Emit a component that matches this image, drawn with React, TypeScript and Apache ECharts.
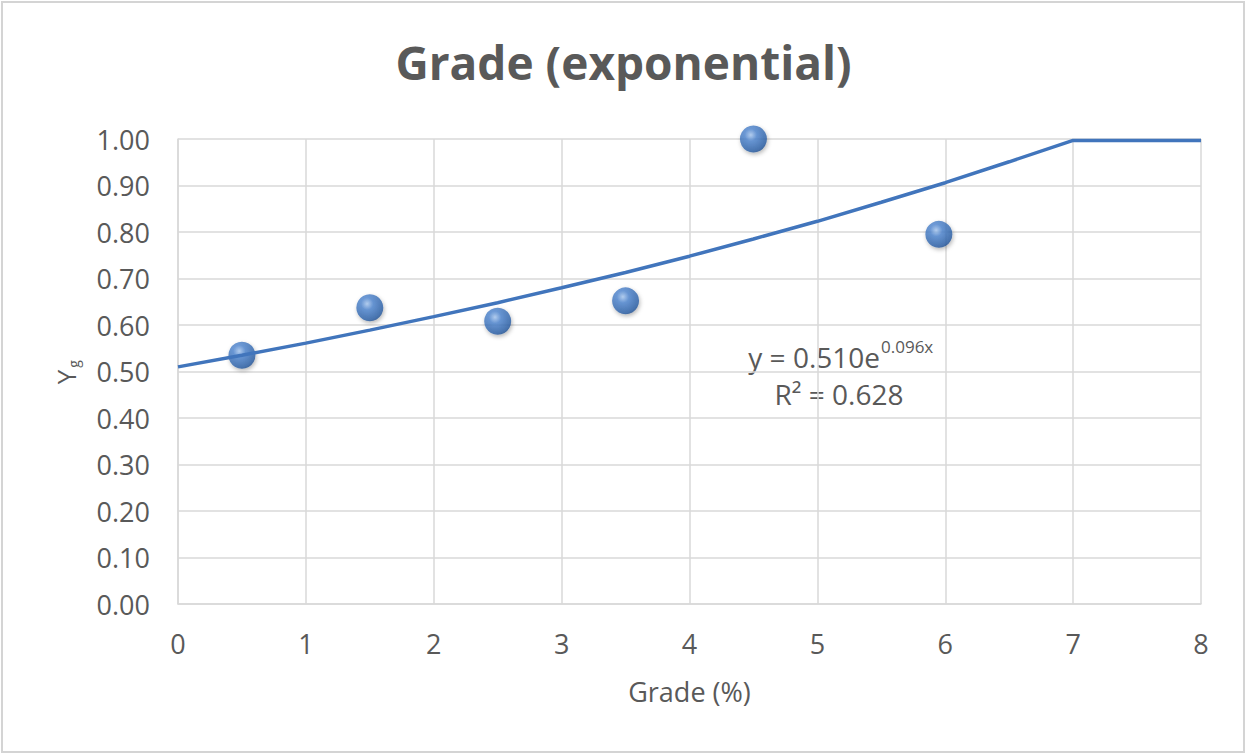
import React, { useEffect, useRef } from "react";
import * as echarts from "echarts";

const title = "Grade (exponential)";
const xAxisName = "Grade (%)";
const yTicks = [0, 0.1, 0.2, 0.3, 0.4, 0.5, 0.6, 0.7, 0.8, 0.9, 1.0];
const pointX = [0.5, 1.5, 2.5, 3.5, 4.5, 5.95];
const pointY = [0.535, 0.637, 0.608, 0.652, 1.0, 0.795];
const trendX = [0, 0.5, 1, 1.5, 2, 2.5, 3, 3.5, 4, 4.5, 5, 5.5, 6, 6.5, 7, 8];
const trendY = [0.51, 0.535, 0.561, 0.589, 0.618, 0.648, 0.68, 0.713, 0.748, 0.785, 0.823, 0.864, 0.906, 0.951, 0.997, 0.997];
const equationMain = "y = 0.510e";
const equationExp = "0.096x";
const rSquared = "R² = 0.628";

const FONT = "'Open Sans', Lato, sans-serif";
const GRAY = "#595959";

export default function App() {
  const ref = useRef<HTMLDivElement>(null);
  useEffect(() => {
    if (!ref.current) return;
    const chart = echarts.init(ref.current, null, { renderer: "svg" });
    const sphere = {
      type: "radial",
      x: 0.4,
      y: 0.35,
      r: 0.75,
      colorStops: [
        { offset: 0, color: "#a9c9f2" },
        { offset: 0.3, color: "#4f86d0" },
        { offset: 0.8, color: "#2a5fa6" },
        { offset: 1, color: "#17407a" },
      ],
    };
    chart.setOption({
      animation: false,
      backgroundColor: "#ffffff",
      textStyle: { fontFamily: FONT },
      title: {
        text: title,
        left: "center",
        top: 34,
        textStyle: { fontFamily: FONT, fontSize: 46, fontWeight: "bold", color: GRAY },
      },
      grid: { left: 178, right: 46, top: 139, bottom: 151, containLabel: false },
      xAxis: {
        type: "value",
        min: 0,
        max: 8,
        interval: 1,
        name: xAxisName,
        nameLocation: "middle",
        nameGap: 74,
        nameTextStyle: { fontFamily: FONT, fontSize: 27, color: GRAY },
        axisLine: { show: true, lineStyle: { color: "#d9d9d9", width: 1.5 } },
        axisTick: { show: false },
        splitLine: { show: true, lineStyle: { color: "#d9d9d9", width: 1.5 } },
        axisLabel: { fontFamily: FONT, fontSize: 27, color: GRAY, margin: 26 },
      },
      yAxis: {
        type: "value",
        min: 0,
        max: 1,
        interval: 0.1,
        axisLine: { show: true, lineStyle: { color: "#d9d9d9", width: 1.5 } },
        axisTick: { show: false },
        splitLine: { show: true, lineStyle: { color: "#d9d9d9", width: 1.5 } },
        axisLabel: {
          fontFamily: FONT,
          fontSize: 27,
          color: GRAY,
          margin: 28,
          formatter: (v: number) => v.toFixed(2),
        },
      },
      graphic: [
        {
          type: "rect",
          silent: true,
          shape: { x: 2, y: 2, width: 1242, height: 750 },
          style: { fill: "none", stroke: "#d4d4d4", lineWidth: 2 },
        },
        {
          type: "text",
          x: 66,
          y: 377,
          rotation: Math.PI / 2,
          style: {
            text: "Y",
            fontFamily: FONT,
            fontSize: 26,
            fill: GRAY,
            align: "center",
            verticalAlign: "middle",
          },
        },
        {
          type: "text",
          x: 73,
          y: 364,
          rotation: Math.PI / 2,
          style: {
            text: "g",
            fontFamily: FONT,
            fontSize: 14,
            fill: GRAY,
            align: "center",
            verticalAlign: "middle",
          },
        },
        {
          type: "text",
          x: 880,
          y: 357,
          style: {
            text: equationMain,
            fontFamily: FONT,
            fontSize: 28,
            fill: GRAY,
            align: "right",
            verticalAlign: "middle",
          },
        },
        {
          type: "text",
          x: 881,
          y: 346,
          style: {
            text: equationExp,
            fontFamily: FONT,
            fontSize: 17,
            fill: GRAY,
            align: "left",
            verticalAlign: "middle",
          },
        },
        {
          type: "text",
          x: 839,
          y: 394,
          style: {
            text: rSquared,
            fontFamily: FONT,
            fontSize: 28,
            fill: GRAY,
            align: "center",
            verticalAlign: "middle",
          },
        },
      ],
      series: [
        {
          type: "scatter",
          data: pointX.map((x, i) => [x, pointY[i]]),
          symbol: "circle",
          symbolSize: 27,
          z: 2,
          itemStyle: {
            color: sphere,
            shadowColor: "rgba(0,0,0,0.35)",
            shadowBlur: 4,
            shadowOffsetX: 1,
            shadowOffsetY: 2,
          },
        },
        {
          type: "line",
          data: trendX.map((x, i) => [x, trendY[i]]),
          showSymbol: false,
          symbol: "none",
          z: 3,
          lineStyle: { color: "#4175bc", width: 3.5 },
        },
      ],
    });
    return () => chart.dispose();
  }, []);
  return (
    <div
      ref={ref}
      style={{ position: "fixed", left: 0, top: 0, width: 1247, height: 755, background: "#fff" }}
    />
  );
}
